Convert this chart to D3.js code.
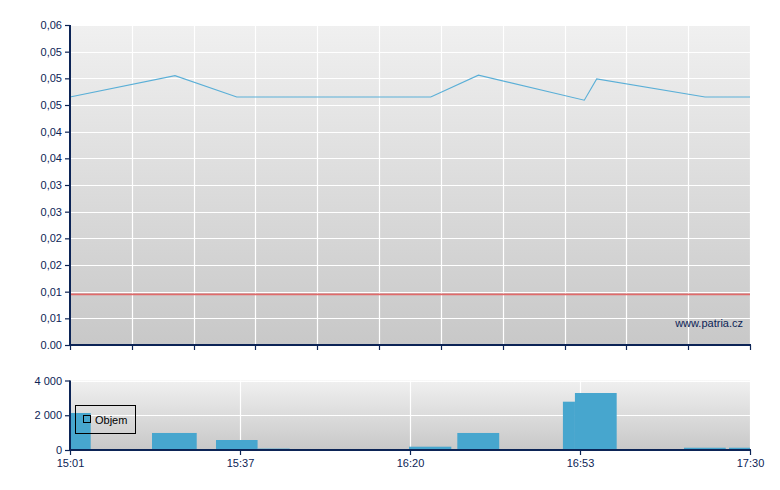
<!DOCTYPE html>
<html>
<head>
<meta charset="utf-8">
<script src="https://cdn.jsdelivr.net/npm/d3@7"></script>
<style>
  html, body { margin: 0; padding: 0; background: #ffffff; }
  svg { display: block; font-family: "Liberation Sans", Arial, sans-serif; }
</style>
</head>
<body>
<svg id="chart" width="780" height="490"></svg>
<script>
// ---------- DATA ----------
// Axis time labels (non-uniform time axis, labels at equal spacing)
const timeTicks = ["15:01", "15:37", "16:20", "16:53", "17:30"];

// Price line: trade times and prices
const tradeTimes  = ["15:01:00", "15:23:14", "15:36:19", "16:24:02", "16:33:17", "16:53:56", "16:56:38", "17:20:13", "17:30:00"];
const tradePrices = [0.0465, 0.0505, 0.0465, 0.0465, 0.0506, 0.0459, 0.0499, 0.0465, 0.0465];

// Reference (previous close) level
const refPrice = 0.0095;

// Price axis ticks and labels (as printed on the chart)
const priceTicks  = [0, 0.005, 0.01, 0.015, 0.02, 0.025, 0.03, 0.035, 0.04, 0.045, 0.05, 0.055, 0.06];
const priceLabels = ["0.00", "0,01", "0,01", "0,02", "0,02", "0,03", "0,03", "0,04", "0,04", "0,05", "0,05", "0,05", "0,06"];

// Volume bars: interval start, interval end, volume
const volFrom = ["14:56:33", "15:18:22", "15:31:55", "15:41:27", "16:19:45", "16:29:11", "16:49:41", "16:52:01", "17:15:38", "17:25:26"];
const volTo   = ["15:05:23", "15:27:50", "15:41:27", "15:49:34", "16:28:01", "16:37:19", "16:52:01", "17:00:59", "17:24:43", "17:34:34"];
const volumes = [2130, 980, 575, 80, 190, 980, 2780, 3280, 130, 130];

const volTicks  = [0, 2000, 4000];
const volLabels = ["0", "2 000", "4 000"];

const seriesName = "Objem";
const watermark  = "www.patria.cz";

// ---------- HELPERS ----------
const toMin = s => { const p = s.split(":").map(Number); return p[0] * 60 + p[1] + (p[2] || 0) / 60; };

// ---------- LAYOUT ----------
const L = 70, R = 750;
const topY0 = 25, topY1 = 345;
const botY0 = 380.5, botY1 = 450;
const navy = "#0c2456";
const barColor = "#47a6ce";
const lineColor = "#5aafd7";

const svg = d3.select("#chart");
const defs = svg.append("defs");

function grad(id) {
  const g = defs.append("linearGradient").attr("id", id).attr("x1", 0).attr("y1", 0).attr("x2", 0).attr("y2", 1);
  g.append("stop").attr("offset", "0%").attr("stop-color", "#f0f0f0");
  g.append("stop").attr("offset", "100%").attr("stop-color", "#c8c8c8");
}
grad("bgTop"); grad("bgBot");

// x scale: piecewise linear time mapping, labels evenly spaced
const tickMins = timeTicks.map(toMin);
const xPos = d3.range(timeTicks.length).map(i => L + (R - L) * i / (timeTicks.length - 1));
const x = d3.scaleLinear().domain(tickMins).range(xPos);

// ---------- TOP PRICE CHART ----------
const y = d3.scaleLinear().domain([0, 0.06]).range([topY1, topY0]);

svg.append("rect").attr("x", L).attr("y", topY0).attr("width", R - L).attr("height", topY1 - topY0)
  .attr("fill", "url(#bgTop)");

// horizontal gridlines
svg.append("g").selectAll("line").data(priceTicks.slice(1)).join("line")
  .attr("x1", L).attr("x2", R).attr("y1", d => Math.round(y(d)) + 0.5).attr("y2", d => Math.round(y(d)) + 0.5)
  .attr("stroke", "#ffffff").attr("stroke-width", 1.2);

// vertical gridlines (11 even divisions)
const vg = d3.scaleLinear().domain([0, 11]).range([L, R]);
svg.append("g").selectAll("line").data(d3.range(1, 12)).join("line")
  .attr("x1", d => Math.round(vg(d)) + 0.5).attr("x2", d => Math.round(vg(d)) + 0.5)
  .attr("y1", topY0).attr("y2", topY1)
  .attr("stroke", "#ffffff").attr("stroke-width", 1.2);

// reference line
svg.append("line").attr("x1", L).attr("x2", R).attr("y1", y(refPrice)).attr("y2", y(refPrice))
  .attr("stroke", "#e06a6a").attr("stroke-width", 1.6);

// price line
const trades = tradeTimes.map((t, i) => ({ t: toMin(t), p: tradePrices[i] }));
svg.append("path").datum(trades)
  .attr("d", d3.line().x(d => x(d.t)).y(d => y(d.p)))
  .attr("fill", "none").attr("stroke", lineColor).attr("stroke-width", 1.1);

// watermark
svg.append("text").attr("x", 743).attr("y", 327).attr("text-anchor", "end")
  .attr("font-size", 11).attr("fill", navy).text(watermark);

// left axis
const yAxis = d3.axisLeft(y).tickValues(priceTicks).tickSize(5).tickPadding(3)
  .tickFormat((d, i) => priceLabels[i]);
const gy = svg.append("g").attr("transform", `translate(${L},0)`).call(yAxis);
gy.select(".domain").remove();
gy.selectAll(".tick line").attr("stroke", navy).attr("stroke-width", 1.2);
gy.selectAll(".tick text").attr("fill", navy).attr("font-size", 11).attr("font-family", "Liberation Sans, Arial, sans-serif");
svg.append("line").attr("x1", L).attr("x2", L).attr("y1", topY0).attr("y2", topY1 + 1)
  .attr("stroke", navy).attr("stroke-width", 2);

// bottom axis of top chart (ticks only)
svg.append("line").attr("x1", L - 1).attr("x2", R + 1).attr("y1", topY1).attr("y2", topY1)
  .attr("stroke", navy).attr("stroke-width", 2);
svg.append("g").selectAll("line").data(d3.range(0, 12)).join("line")
  .attr("x1", d => Math.round(vg(d)) + 0.5).attr("x2", d => Math.round(vg(d)) + 0.5)
  .attr("y1", topY1).attr("y2", topY1 + 5)
  .attr("stroke", navy).attr("stroke-width", 1.2);

// ---------- BOTTOM VOLUME CHART ----------
const yv = d3.scaleLinear().domain([0, 4000]).range([botY1, botY0]);

svg.append("rect").attr("x", L).attr("y", botY0).attr("width", R - L).attr("height", botY1 - botY0)
  .attr("fill", "url(#bgBot)");

svg.append("g").selectAll("line").data(volTicks.slice(1)).join("line")
  .attr("x1", L).attr("x2", R).attr("y1", d => Math.round(yv(d)) + 0.5).attr("y2", d => Math.round(yv(d)) + 0.5)
  .attr("stroke", "#ffffff").attr("stroke-width", 1.2);
svg.append("g").selectAll("line").data(tickMins.slice(1)).join("line")
  .attr("x1", d => Math.round(x(d)) + 0.5).attr("x2", d => Math.round(x(d)) + 0.5)
  .attr("y1", botY0).attr("y2", botY1)
  .attr("stroke", "#ffffff").attr("stroke-width", 1.2);

defs.append("clipPath").attr("id", "clipBot").append("rect")
  .attr("x", L).attr("y", botY0 - 10).attr("width", R - L).attr("height", botY1 - botY0 + 10);

const bars = volumes.map((v, i) => ({ a: toMin(volFrom[i]), b: toMin(volTo[i]), v }));
svg.append("g").attr("clip-path", "url(#clipBot)").selectAll("rect").data(bars).join("rect")
  .attr("x", d => x(d.a)).attr("width", d => x(d.b) - x(d.a))
  .attr("y", d => yv(d.v)).attr("height", d => botY1 - yv(d.v))
  .attr("fill", barColor);

// y axis (volume)
const yvAxis = d3.axisLeft(yv).tickValues(volTicks).tickSize(5).tickPadding(3)
  .tickFormat((d, i) => volLabels[i]);
const gyv = svg.append("g").attr("transform", `translate(${L},0)`).call(yvAxis);
gyv.select(".domain").remove();
gyv.selectAll(".tick line").attr("stroke", navy).attr("stroke-width", 1.2);
gyv.selectAll(".tick text").attr("fill", navy).attr("font-size", 11).attr("font-family", "Liberation Sans, Arial, sans-serif");
svg.append("line").attr("x1", L).attr("x2", L).attr("y1", botY0).attr("y2", botY1 + 1)
  .attr("stroke", navy).attr("stroke-width", 2);

// x axis (time)
const xAxis = d3.axisBottom(x).tickValues(tickMins).tickSize(5).tickPadding(4)
  .tickFormat((d, i) => timeTicks[i]);
const gx = svg.append("g").attr("transform", `translate(0,${botY1})`).call(xAxis);
gx.select(".domain").remove();
gx.selectAll(".tick line").attr("stroke", navy).attr("stroke-width", 1.2);
gx.selectAll(".tick text").attr("fill", navy).attr("font-size", 11).attr("font-family", "Liberation Sans, Arial, sans-serif");
svg.append("line").attr("x1", L - 1).attr("x2", R + 1).attr("y1", botY1).attr("y2", botY1)
  .attr("stroke", navy).attr("stroke-width", 2);

// legend
const lg = svg.append("g");
lg.append("rect").attr("x", 75.5).attr("y", 405.5).attr("width", 60).attr("height", 28)
  .attr("fill", "none").attr("stroke", "#000").attr("stroke-width", 1);
lg.append("rect").attr("x", 83.5).attr("y", 415.5).attr("width", 7).attr("height", 7)
  .attr("fill", barColor).attr("stroke", "#000").attr("stroke-width", 1);
lg.append("text").attr("x", 95).attr("y", 424).attr("font-size", 11).attr("fill", "#000").text(seriesName);
</script>
</body>
</html>
